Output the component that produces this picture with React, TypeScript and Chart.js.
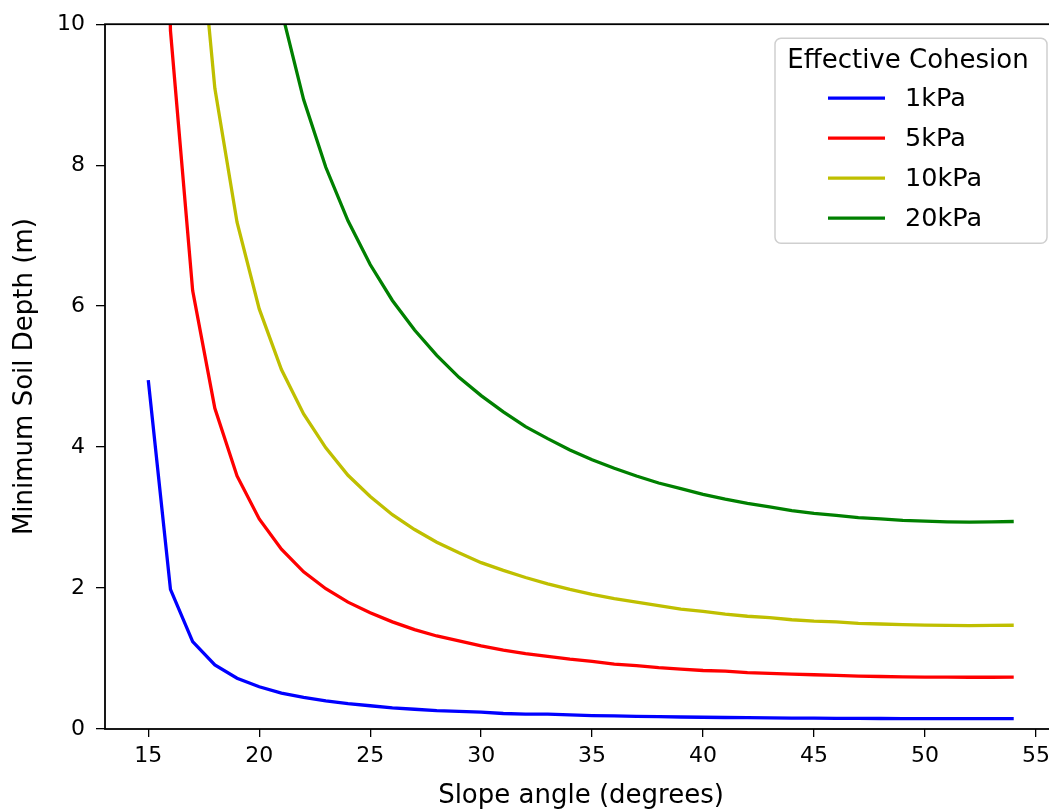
import React, { useEffect, useRef } from 'react';
import { Chart, registerables } from 'chart.js';

Chart.register(...registerables);

// ---- Data ----
const slopeAngles = [
  15, 16, 17, 18, 19, 20, 21, 22, 23, 24, 25, 26, 27, 28, 29, 30, 31, 32, 33, 34,
  35, 36, 37, 38, 39, 40, 41, 42, 43, 44, 45, 46, 47, 48, 49, 50, 51, 52, 53, 54,
];

const depth1kPa = [
  4.95, 1.98, 1.24, 0.91, 0.72, 0.60, 0.51, 0.45, 0.40, 0.36, 0.33, 0.30, 0.28, 0.26,
  0.25, 0.24, 0.22, 0.21, 0.21, 0.20, 0.19, 0.185, 0.18, 0.175, 0.17, 0.167, 0.163,
  0.16, 0.157, 0.155, 0.153, 0.152, 0.15, 0.149, 0.148, 0.147, 0.147, 0.147, 0.147, 0.147,
];

const depth5kPa = [
  24.7, 9.91, 6.22, 4.55, 3.59, 2.98, 2.55, 2.23, 1.99, 1.80, 1.65, 1.52, 1.41, 1.32,
  1.25, 1.18, 1.12, 1.07, 1.03, 0.99, 0.96, 0.92, 0.90, 0.87, 0.85, 0.83, 0.82, 0.80,
  0.79, 0.78, 0.77, 0.76, 0.75, 0.745, 0.74, 0.737, 0.735, 0.734, 0.734, 0.736,
];

const depth10kPa = [
  49.5, 19.81, 12.43, 9.09, 7.19, 5.96, 5.10, 4.47, 3.99, 3.60, 3.30, 3.04, 2.83, 2.65,
  2.50, 2.36, 2.25, 2.15, 2.06, 1.98, 1.91, 1.85, 1.80, 1.75, 1.70, 1.67, 1.63, 1.60,
  1.58, 1.55, 1.53, 1.52, 1.50, 1.49, 1.48, 1.474, 1.47, 1.468, 1.469, 1.472,
];

const depth20kPa = [
  98.9, 39.6, 24.9, 18.18, 14.37, 11.91, 10.20, 8.93, 7.97, 7.21, 6.59, 6.08, 5.66, 5.30,
  4.99, 4.73, 4.50, 4.29, 4.12, 3.96, 3.82, 3.70, 3.59, 3.49, 3.41, 3.33, 3.26, 3.20,
  3.15, 3.10, 3.06, 3.03, 3.00, 2.98, 2.96, 2.95, 2.94, 2.936, 2.938, 2.944,
];

const seriesLabels = ['1kPa', '5kPa', '10kPa', '20kPa'];
const seriesColors = ['#0000ff', '#ff0000', '#bfbf00', '#008000'];
const seriesValues = [depth1kPa, depth5kPa, depth10kPa, depth20kPa];

const xTickValues = [15, 20, 25, 30, 35, 40, 45, 50, 55];
const yTickValues = [0, 2, 4, 6, 8, 10];

const legendTitle = 'Effective Cohesion';
const xAxisTitle = 'Slope angle (degrees)';
const yAxisTitle = 'Minimum Soil Depth (m)';

const FONT = "'DejaVu Sans', sans-serif";

// Axes frame (all four spines)
const framePlugin = {
  id: 'frame',
  afterDatasetsDraw(chart: any) {
    const { ctx, chartArea } = chart;
    ctx.save();
    ctx.strokeStyle = '#000';
    ctx.lineWidth = 1.8;
    ctx.strokeRect(chartArea.left, chartArea.top, chartArea.right - chartArea.left, chartArea.bottom - chartArea.top);
    ctx.restore();
  },
};

// matplotlib-like legend in the upper right
const legendPlugin = {
  id: 'mplLegend',
  afterDraw(chart: any) {
    const { ctx, chartArea } = chart;
    const w = 272;
    const h = 205;
    const x = chartArea.right - 10 - w;
    const y = chartArea.top + 14;
    ctx.save();
    ctx.beginPath();
    ctx.roundRect(x, y, w, h, 6);
    ctx.fillStyle = 'rgba(255,255,255,0.85)';
    ctx.fill();
    ctx.strokeStyle = '#cfcfcf';
    ctx.lineWidth = 1.5;
    ctx.stroke();

    ctx.fillStyle = '#000';
    ctx.textBaseline = 'alphabetic';
    ctx.textAlign = 'center';
    ctx.font = `26px ${FONT}`;
    ctx.fillText(legendTitle, x + w / 2 - 3, y + 30);

    ctx.textAlign = 'left';
    ctx.textBaseline = 'middle';
    ctx.font = `25.5px ${FONT}`;
    chart.data.datasets.forEach((ds: any, i: number) => {
      const ry = y + 60 + i * 40;
      ctx.beginPath();
      ctx.moveTo(x + 53, ry);
      ctx.lineTo(x + 110, ry);
      ctx.strokeStyle = ds.borderColor;
      ctx.lineWidth = 3.3;
      ctx.stroke();
      ctx.fillStyle = '#000';
      ctx.fillText(ds.label, x + 130, ry + 1);
    });
    ctx.restore();
  },
};

export default function App() {
  const canvasRef = useRef<HTMLCanvasElement>(null);

  useEffect(() => {
    const canvas = canvasRef.current;
    if (!canvas) return;
    const chart = new Chart(canvas, {
      type: 'line',
      data: {
        datasets: seriesValues.map((vals, s) => ({
          label: seriesLabels[s],
          data: slopeAngles.map((a, i) => ({ x: a, y: vals[i] })),
          borderColor: seriesColors[s],
          backgroundColor: seriesColors[s],
          borderWidth: 3.3,
          pointRadius: 0,
          pointHoverRadius: 0,
          tension: 0,
          fill: false,
        })),
      },
      options: {
        responsive: false,
        animation: false,
        devicePixelRatio: 1,
        layout: { padding: { left: 0, right: 13, top: 22, bottom: 0 } },
        plugins: {
          legend: { display: false },
          tooltip: { enabled: false },
          title: { display: false },
        },
        scales: {
          x: {
            type: 'linear',
            min: 13.05,
            max: 55.95,
            afterBuildTicks: (axis: any) => {
              axis.ticks = xTickValues.map((v) => ({ value: v }));
            },
            afterFit: (axis: any) => {
              axis.height = 83;
            },
            grid: {
              display: true,
              drawOnChartArea: false,
              drawTicks: true,
              tickLength: 8,
              color: '#000',
              lineWidth: 1.3,
            },
            border: { display: false },
            ticks: {
              color: '#000',
              font: { family: FONT, size: 22 },
              padding: 6,
              maxRotation: 0,
              autoSkip: false,
            },
            title: {
              display: true,
              text: xAxisTitle,
              color: '#000',
              font: { family: FONT, size: 26 },
              padding: { top: 0, bottom: 0 },
            },
          },
          y: {
            type: 'linear',
            min: 0,
            max: 10,
            afterBuildTicks: (axis: any) => {
              axis.ticks = yTickValues.map((v) => ({ value: v }));
            },
            afterFit: (axis: any) => {
              axis.width = 105;
            },
            grid: {
              display: true,
              drawOnChartArea: false,
              drawTicks: true,
              tickLength: 9,
              color: '#000',
              lineWidth: 1.3,
            },
            border: { display: false },
            ticks: {
              color: '#000',
              font: { family: FONT, size: 22 },
              padding: 11,
              autoSkip: false,
            },
            title: {
              display: true,
              text: yAxisTitle,
              color: '#000',
              font: { family: FONT, size: 26 },
              padding: { top: 10, bottom: 0 },
            },
          },
        },
      },
      plugins: [framePlugin, legendPlugin],
    });
    return () => chart.destroy();
  }, []);

  return (
    <div
      style={{
        position: 'fixed',
        left: 0,
        top: 0,
        width: 1049,
        height: 812,
        overflow: 'hidden',
        background: '#fff',
      }}
    >
      <canvas ref={canvasRef} width={1070} height={812} style={{ display: 'block', width: 1070, height: 812 }} />
    </div>
  );
}
